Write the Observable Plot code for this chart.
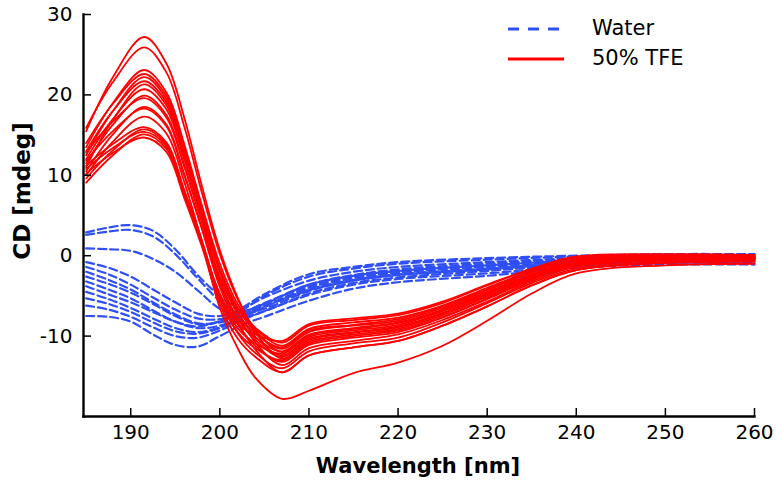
<!DOCTYPE html>
<html>
<head>
<meta charset="utf-8">
<script src="https://cdn.jsdelivr.net/npm/d3@7"></script>
<script src="https://cdn.jsdelivr.net/npm/@observablehq/plot@0.6"></script>
<style>
  body { margin: 0; background: #fff; }
  #wrap { position: relative; width: 776px; height: 486px; font-family: "DejaVu Sans", "Liberation Sans", Arial, sans-serif; }
  .title { position: absolute; font-weight: bold; color: #000; white-space: nowrap; line-height: 1; }
  .leg { position: absolute; display: flex; align-items: center; font-size: 21px; color: #000; line-height: 1; }
  .leg svg { margin-right: 28px; }
</style>
</head>
<body>
<div id="wrap"></div>
<script>
// Wavelength grids (nm)
const redWavelengths = [185, 188, 191.5, 194, 196, 198, 200, 202, 204, 207, 210, 215, 220, 225, 230, 235, 240, 250, 260];
const blueWavelengths = [185, 187.5, 190, 192.5, 195, 197.5, 200, 202.5, 205, 210, 215, 220, 230, 240, 250, 260];

// 50% TFE spectra (CD, mdeg)
const tfeSpectra = [
  [15.5, 22.2, 27.2, 23.9, 17.2, 8.6, 0.7, -5.2, -9.5, -12.8, -10.7, -9.8, -9.1, -7.4, -5.1, -2.8, -1.0, -0.4, -0.4],
  [15.9, 21.6, 25.9, 22.8, 16.1, 7.8, 0.2, -5.4, -9.2, -12.0, -9.9, -9.1, -8.4, -6.8, -4.6, -2.4, -0.7, -0.2, -0.2],
  [13.5, 19.0, 23.1, 20.3, 13.9, 6.2, -1.0, -6.0, -9.0, -11.2, -9.1, -8.3, -7.7, -6.2, -4.0, -1.9, -0.4, 0.0, 0.0],
  [14.0, 18.9, 22.6, 19.9, 13.5, 5.9, -1.9, -7.2, -10.8, -13.6, -11.5, -10.6, -9.8, -8.0, -5.7, -3.2, -1.4, -0.6, -0.5],
  [12.5, 18.0, 22.2, 19.5, 13.2, 5.6, -1.6, -6.5, -9.5, -11.6, -9.5, -8.7, -8.1, -6.5, -4.3, -2.1, -0.5, -0.1, -0.1],
  [13.0, 18.0, 21.7, 19.1, 12.8, 5.3, -2.0, -7.0, -10.1, -12.4, -10.3, -9.5, -8.8, -7.1, -4.8, -2.6, -0.9, -0.3, -0.3],
  [11.0, 16.9, 21.3, 18.7, 12.4, 5.1, -1.8, -6.5, -9.0, -10.8, -8.7, -8.0, -7.4, -5.9, -3.7, -1.7, -0.2, 0.1, 0.1],
  [12.0, 17.0, 20.7, 18.2, 12.0, 4.7, -3.0, -8.2, -11.7, -14.5, -12.4, -11.4, -10.6, -8.7, -6.3, -3.7, -1.8, -0.9, -0.7],
  [11.5, 16.3, 19.9, 17.5, 11.3, 4.2, -2.6, -7.2, -9.7, -11.4, -9.3, -8.6, -7.9, -6.3, -4.2, -2.0, -0.5, 0.0, -0.1],
  [12.8, 16.7, 19.6, 17.2, 11.1, 4.1, -3.1, -7.8, -10.5, -12.6, -10.5, -9.6, -8.9, -7.2, -5.0, -2.7, -1.0, -0.4, -0.3],
  [10.5, 15.1, 18.5, 16.3, 10.2, 3.4, -3.5, -7.9, -10.2, -11.9, -9.8, -9.0, -8.3, -6.7, -4.5, -2.3, -0.7, -0.2, -0.2],
  [11.8, 15.5, 18.3, 16.1, 10.0, 3.3, -3.9, -8.5, -11.2, -13.2, -11.1, -10.2, -9.5, -7.7, -5.4, -3.0, -1.2, -0.5, -0.4],
  [10.0, 14.2, 17.3, 15.2, 9.2, 1.7, -6.5, -11.5, -15.2, -17.8, -16.8, -14.6, -13.3, -11.2, -8.1, -4.7, -2.2, -1.2, -1.0],
  [11.2, 13.9, 16.0, 14.1, 8.2, 1.9, -5.3, -9.6, -12.1, -14.0, -11.9, -10.9, -10.2, -8.3, -5.9, -3.4, -1.6, -0.8, -0.6],
  [9.6, 13.1, 15.7, 13.8, 8.0, 1.7, -5.0, -9.0, -10.9, -12.2, -10.1, -9.3, -8.6, -6.9, -4.7, -2.5, -0.8, -0.3, -0.2],
  [10.8, 13.4, 15.4, 13.6, 7.7, 1.5, -4.7, -8.5, -9.8, -10.6, -8.5, -7.8, -7.2, -5.7, -3.6, -1.6, -0.1, 0.2, 0.1],
  [9.1, 12.5, 15.1, 13.3, 7.5, 1.4, -5.5, -9.5, -11.5, -13.0, -10.9, -10.0, -9.3, -7.6, -5.3, -2.9, -1.2, -0.5, -0.4],
  [10.2, 12.8, 14.7, 12.9, 7.2, 1.1, -6.0, -10.3, -12.6, -14.5, -12.4, -11.4, -10.6, -8.7, -6.3, -3.7, -1.8, -0.9, -0.7]
];

// Water spectra (CD, mdeg)
const waterSpectra = [
  [2.9, 3.5, 3.8, 3.1, 0.8, -2.4, -5.0, -6.8, -6.0, -3.6, -2.5, -1.9, -1.2, -0.6, -0.3, -0.4],
  [2.6, 3.0, 3.2, 2.4, 0.2, -2.8, -5.6, -7.2, -6.6, -4.4, -3.1, -2.4, -1.7, -0.9, -0.6, -0.6],
  [0.9, 0.8, 0.6, -0.4, -2.0, -4.3, -6.6, -7.6, -6.9, -4.7, -3.4, -2.7, -1.9, -1.1, -0.8, -0.8],
  [-0.8, -1.5, -2.6, -4.2, -5.8, -7.2, -7.5, -6.6, -5.2, -3.1, -2.0, -1.4, -0.8, -0.3, 0.0, -0.1],
  [-1.4, -2.3, -3.6, -5.2, -6.7, -7.8, -7.9, -7.1, -5.9, -3.8, -2.6, -1.9, -1.2, -0.5, -0.2, -0.2],
  [-2.0, -3.0, -4.2, -5.8, -7.3, -8.4, -8.3, -7.4, -6.3, -4.3, -3.1, -2.4, -1.7, -0.9, -0.5, -0.5],
  [-2.6, -3.5, -4.6, -6.0, -7.5, -8.5, -8.2, -6.8, -5.0, -2.6, -1.6, -1.0, -0.5, -0.1, 0.1, 0.1],
  [-3.2, -4.2, -5.3, -6.8, -8.2, -9.0, -8.7, -7.6, -6.3, -4.0, -2.8, -2.1, -1.4, -0.7, -0.3, -0.3],
  [-3.8, -4.8, -5.8, -7.0, -8.2, -8.8, -8.1, -6.5, -4.8, -2.3, -1.4, -0.8, -0.3, 0.0, 0.2, 0.2],
  [-4.5, -5.4, -6.5, -7.8, -9.0, -9.5, -8.9, -7.5, -6.0, -3.6, -2.4, -1.7, -1.0, -0.4, -0.1, -0.1],
  [-5.3, -6.0, -7.0, -8.3, -9.4, -9.7, -9.0, -7.7, -6.4, -4.2, -3.0, -2.3, -1.6, -0.8, -0.4, -0.4],
  [-6.2, -6.7, -7.6, -8.9, -10.0, -10.2, -9.3, -8.0, -6.9, -4.9, -3.6, -2.9, -2.2, -1.3, -0.9, -0.9],
  [-7.5, -7.6, -8.2, -9.8, -11.1, -11.3, -10.0, -8.6, -7.6, -5.6, -4.1, -3.3, -2.5, -1.5, -1.1, -1.1]
];

const xTicks = [190, 200, 210, 220, 230, 240, 250, 260];
const yTicks = [-10, 0, 10, 20, 30];
const seriesNames = ["Water", "50% TFE"];
const xTitle = "Wavelength [nm]";
const yTitle = "CD [mdeg]";
const blueColor = "#2f4ff5";
const redColor = "#ff0000";

const waterRows = [];
waterSpectra.forEach((s, i) => s.forEach((v, j) => waterRows.push({wl: blueWavelengths[j], cd: v, id: "w" + i})));
const tfeRows = [];
tfeSpectra.forEach((s, i) => s.forEach((v, j) => tfeRows.push({wl: redWavelengths[j], cd: v, id: "t" + i})));

const chart = Plot.plot({
  width: 776,
  height: 486,
  marginLeft: 83,
  marginRight: 22,
  marginTop: 14,
  marginBottom: 70,
  style: {fontFamily: "'DejaVu Sans', 'Liberation Sans', Arial, sans-serif", fontSize: "20px", color: "#000", background: "#fff", overflow: "visible"},
  x: {domain: [184.7, 260]},
  y: {domain: [-20, 30]},
  marks: [
    Plot.line(waterRows, {x: "wl", y: "cd", z: "id", stroke: blueColor, strokeWidth: 2.2, strokeDasharray: "8,4", curve: "catmull-rom"}),
    Plot.line(tfeRows, {x: "wl", y: "cd", z: "id", stroke: redColor, strokeWidth: 1.8, curve: "catmull-rom"}),
    Plot.frame({anchor: "left", strokeWidth: 2.4}),
    Plot.frame({anchor: "bottom", strokeWidth: 2.4}),
    Plot.axisX({ticks: xTicks, tickSize: -8, tickPadding: 16, strokeWidth: 1.5, tickFormat: d => String(d), label: null}),
    Plot.axisY({ticks: yTicks, tickSize: -8, tickPadding: 19, strokeWidth: 1.5, tickFormat: d => String(d), label: null})
  ]
});

const wrap = document.getElementById("wrap");
wrap.appendChild(chart);

// Axis titles
const xt = document.createElement("div");
xt.className = "title";
xt.textContent = xTitle;
xt.style.fontSize = "21px";
xt.style.left = "418px";
xt.style.top = "466px";
xt.style.transform = "translate(-50%, -50%)";
wrap.appendChild(xt);

const yt = document.createElement("div");
yt.className = "title";
yt.textContent = yTitle;
yt.style.fontSize = "23px";
yt.style.left = "22px";
yt.style.top = "191px";
yt.style.transform = "translate(-50%, -50%) rotate(-90deg)";
wrap.appendChild(yt);

// Legend
function legendItem(name, color, dash, top) {
  const d = document.createElement("div");
  d.className = "leg";
  d.style.left = "508px";
  d.style.top = top + "px";
  d.innerHTML = `<svg width="56" height="8"><line x1="0" y1="4" x2="56" y2="4" stroke="${color}" stroke-width="3" ${dash ? 'stroke-dasharray="11,9"' : ''}/></svg><span>${name}</span>`;
  wrap.appendChild(d);
}
legendItem(seriesNames[0], blueColor, true, 18);
legendItem(seriesNames[1], redColor, false, 48);
</script>
</body>
</html>
